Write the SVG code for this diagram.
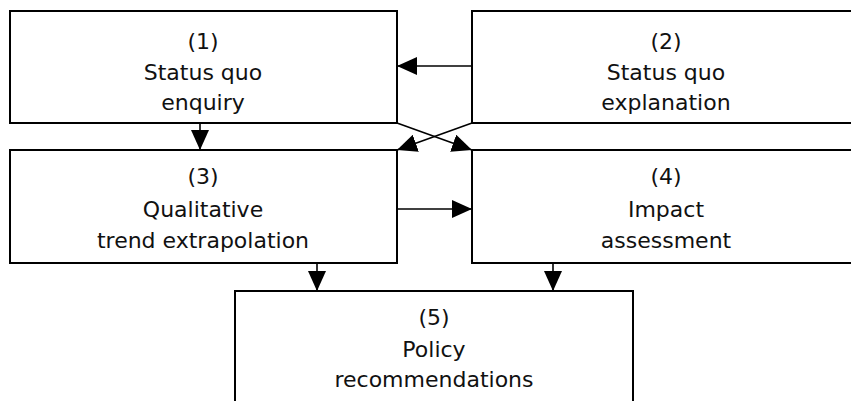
<svg xmlns="http://www.w3.org/2000/svg" width="851" height="401" viewBox="0 0 851 401">
<style>
.box{fill:#fff;stroke:#000;stroke-width:2}
.lbl{font-family:"DejaVu Sans","Liberation Sans",sans-serif;font-size:22px;fill:#111;text-anchor:middle}
.conn{stroke:#000;stroke-width:1.6;fill:none;marker-end:url(#ah)}
</style>
<defs>
<marker id="ah" markerUnits="userSpaceOnUse" markerWidth="20" markerHeight="18" refX="20" refY="9" orient="auto" viewBox="0 0 20 18">
<path d="M0,0 L20,9 L0,18 z" fill="#000"/>
</marker>
</defs>
<rect width="851" height="401" fill="#fff"/>
<g id="node1">
<rect class="box" x="10" y="11" width="387" height="112"/>
<text class="lbl" x="203" y="49">(1)</text>
<text class="lbl" x="203" y="80">Status quo</text>
<text class="lbl" x="203" y="110">enquiry</text>
</g>
<g id="node2">
<rect class="box" x="472" y="11" width="388" height="112"/>
<text class="lbl" x="666" y="49">(2)</text>
<text class="lbl" x="666" y="80">Status quo</text>
<text class="lbl" x="666" y="110">explanation</text>
</g>
<g id="node3">
<rect class="box" x="10" y="150" width="387" height="113"/>
<text class="lbl" x="203" y="184">(3)</text>
<text class="lbl" x="203" y="217">Qualitative</text>
<text class="lbl" x="203" y="248">trend extrapolation</text>
</g>
<g id="node4">
<rect class="box" x="472" y="150" width="388" height="113"/>
<text class="lbl" x="666" y="184">(4)</text>
<text class="lbl" x="666" y="217">Impact</text>
<text class="lbl" x="666" y="248">assessment</text>
</g>
<g id="node5">
<rect class="box" x="235" y="291" width="398" height="130"/>
<text class="lbl" x="434" y="325">(5)</text>
<text class="lbl" x="434" y="357">Policy</text>
<text class="lbl" x="434" y="387">recommendations</text>
</g>
<g id="connectors">
<line class="conn" x1="472" y1="66" x2="397" y2="66"/>
<line class="conn" x1="200" y1="123" x2="200" y2="150"/>
<line class="conn" x1="397" y1="123" x2="472" y2="150"/>
<line class="conn" x1="472" y1="123" x2="397" y2="150"/>
<line class="conn" x1="397" y1="209" x2="472" y2="209"/>
<line class="conn" x1="317" y1="263" x2="317" y2="291"/>
<line class="conn" x1="553" y1="263" x2="553" y2="291"/>
</g>
</svg>
